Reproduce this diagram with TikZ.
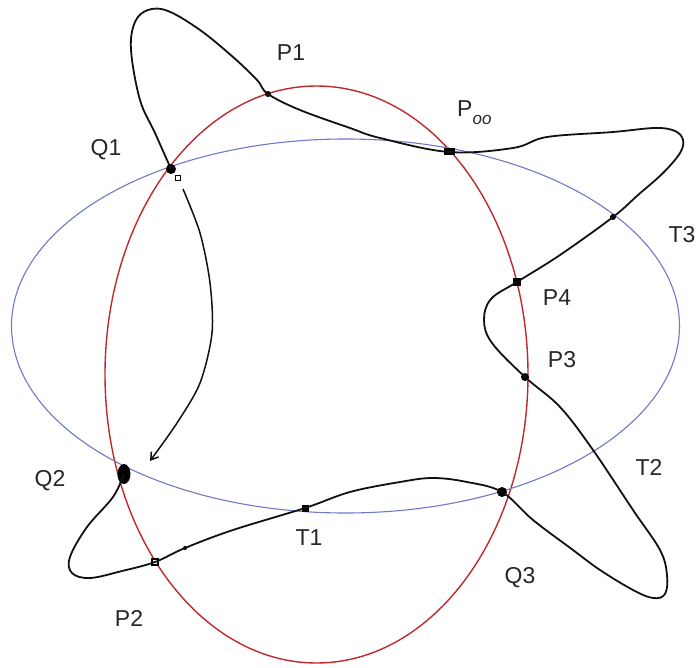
\documentclass[tikz,border=0pt]{standalone}
\usepackage{fontspec}
\setmainfont{Liberation Sans}
\usetikzlibrary{arrows.meta,shapes.geometric}
\definecolor{EllRed}{HTML}{C0282D}
\definecolor{EllBlue}{HTML}{7078C8}
\definecolor{CurveBlack}{HTML}{111111}
\tikzset{
  redell/.style={draw=EllRed, line width=1.4pt},
  blueell/.style={draw=EllBlue, line width=1.1pt},
  curve/.style={draw=CurveBlack, line width=1.8pt, line join=round},
  dot/.style={circle, fill=black, inner sep=0pt, minimum size=7pt},
  sqdot/.style={rectangle, fill=black, inner sep=0pt, minimum size=8pt},
  lbl/.style={font=\fontsize{23}{26}\selectfont, text=black!85, inner sep=0pt}
}

\begin{document}
\begin{tikzpicture}[x=1pt,y=-1pt]
\useasboundingbox (0,0) rectangle (698,668);
% the two ellipses
\draw[redell] (316.5,374.5) ellipse [x radius=211.5pt, y radius=288.5pt];
\draw[blueell] (345.5,326) ellipse [x radius=334pt, y radius=187pt];
% marked points
\node[dot, minimum size=10pt] (Q1) at (171,169) {};
\node[draw, inner sep=0pt, minimum size=5pt, line width=1.3pt] (Q1s) at (178,178) {};
\node[dot, minimum size=6pt] (P1) at (268,94) {};
\node[sqdot, minimum width=11pt, minimum height=7pt] (Poo) at (449,152) {};
\node[dot, minimum size=6pt] (T3) at (613,217) {};
\node[sqdot] (P4) at (517,282) {};
\node[dot, minimum size=8pt] (P3) at (525,377) {};
\node[dot, minimum size=10pt] (Q3) at (502,492) {};
\node[sqdot, minimum size=7pt] (T1) at (305,508) {};
\node[rectangle, draw=black, fill=white, line width=2pt, inner sep=0pt, minimum size=6pt] (P2) at (155,562) {};
\node[ellipse, fill=black, inner sep=0pt, minimum width=13pt, minimum height=20pt] (Q2) at (124,474) {};
\node[dot, minimum size=4pt] (M1) at (185,548) {};
% the closed curve
\draw[curve] plot[smooth, tension=0.6] coordinates {(Q2.center) (113,497) (87,527) (70,557) (72,573) (90,578) (122,571)
  (P2.center) (M1.center) (233,530) (T1.center) (350,492) (400,482) (433,478) (467,482) (Q3.center)
  (533,520) (573,550) (600,570) (633,590) (653,598) (665,594) (667,575) (660,550) (633,510) (593,450) (560,407)
  (P3.center) (492,343) (484,320) (491,299) (P4.center) (560,255) (T3.center) (638,195) (663,173) (680,153)
  (683,140) (675,131) (655,128) (613,132) (547,137) (513,148) (Poo.center) (380,138) (350,128) (300,110)
  (P1.center) (257,80) (233,57) (200,30) (168,11) (148,10) (135,22) (131,50) (140,100) (155,133) (Q1.center)};
% the arrowed part from Q1 towards Q2
\coordinate (A0) at (183,189);
\coordinate (A1) at (150,461);
\draw[curve, line width=1.5pt, -{Straight Barb[length=7pt, width=9pt]}] plot[smooth] coordinates {(A0) (200,233) (210,283) (212,333) (200,383) (177,423) (A1)};
% labels
\node[lbl] (lP1) at (291,53) {P1};
\node[lbl, anchor=base west] (lPoo) at (457,117) {P\raisebox{-8pt}{\fontsize{17}{17}\selectfont\itshape oo}};
\node[lbl] (lQ1) at (106,150) {Q1};
\node[lbl] (lT3) at (682,235) {T3};
\node[lbl] (lP4) at (557,298) {P4};
\node[lbl] (lP3) at (562,360) {P3};
\node[lbl] (lT2) at (649,467) {T2};
\node[lbl] (lQ3) at (520,578) {Q3};
\node[lbl] (lT1) at (309,538) {T1};
\node[lbl] (lQ2) at (50,481) {Q2};
\node[lbl] (lP2) at (129,618) {P2};
\end{tikzpicture}
\end{document}
